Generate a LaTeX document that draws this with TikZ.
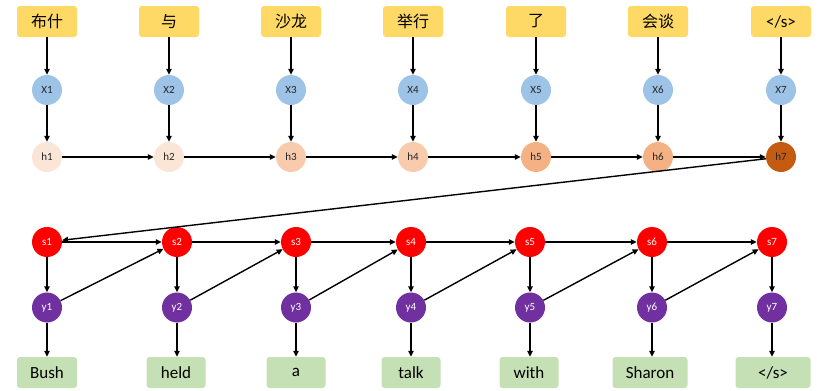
\documentclass[tikz,border=0pt]{standalone}
\usepackage{fontspec}
\setmainfont{Carlito}
\newfontfamily\cjk{Noto Sans CJK SC}
\usetikzlibrary{arrows.meta}
\definecolor{wordyellow}{HTML}{FFD966}
\definecolor{wordgreen}{HTML}{C5E0B4}
\definecolor{xblue}{HTML}{9DC3E6}
\definecolor{hA}{HTML}{FBE5D6}
\definecolor{hB}{HTML}{F8CBAD}
\definecolor{hC}{HTML}{F4B183}
\definecolor{hD}{HTML}{C55A11}
\definecolor{spurple}{HTML}{7030A0}
\newcommand\eosword{</s>}
\tikzset{
  srcword/.style={fill=wordyellow, rounded corners=3pt, minimum width=60pt, minimum height=31pt, inner sep=0pt, font=\fontsize{16}{16}\selectfont\cjk},
  tgtword/.style={fill=wordgreen, rounded corners=3pt, minimum width=59pt, minimum height=31pt, inner sep=0pt, font=\fontsize{17}{17}\selectfont},
  state/.style={circle, minimum size=30pt, inner sep=0pt, font=\fontsize{11}{11}\selectfont},
  xnode/.style={state, fill=xblue, text=black!85},
  hnode/.style={state, text=black!85},
  snode/.style={state, fill=red, text=white},
  ynode/.style={state, fill=spurple, text=white},
  link/.style={-{Triangle[length=6pt,width=5.5pt]}, line width=1.4pt, black},
}
\begin{document}
\begin{tikzpicture}[x=1pt,y=-1pt]
\useasboundingbox (0,0) rectangle (817,391);

% encoder: source words, embeddings, hidden states
\foreach \i/\x/\w/\c in {1/47/布什/hA, 2/169/与/hA, 3/291/沙龙/hB, 4/413/举行/hB, 5/536/了/hC, 6/658/会谈/hC}{
  \node[srcword] (w\i) at (\x,21.5) {\w};
  \node[xnode] (x\i) at (\x,90) {X\i};
  \node[hnode, fill=\c] (h\i) at (\x,157) {h\i};
}
\node[srcword, font=\fontsize{17}{17}\selectfont] (w7) at (781,21.5) {\eosword};
\node[xnode] (x7) at (781,90) {X7};
\node[hnode, fill=hD] (h7) at (781,157) {h7};

\foreach \i in {1,...,7}{
  \draw[link] (w\i) -- (x\i);
  \draw[link] (x\i) -- (h\i);
}
\foreach \i/\j in {1/2,2/3,3/4,4/5,5/6,6/7}{
  \draw[link] (h\i) -- (h\j);
}

% decoder: states, outputs, target words
\foreach \i/\x/\bx/\t/\bw in {1/47/47/Bush/60, 2/177/176/held/59, 3/296/296/a/59, 4/411/411/talk/59, 5/530/529/with/59, 6/652/650/Sharon/75, 7/772/773/\eosword/75}{
  \node[snode] (s\i) at (\x,242) {s\i};
  \node[ynode] (y\i) at (\x,307.5) {y\i};
  \node[tgtword, minimum width=\bw pt] (t\i) at (\bx,372.5) {\t};
  \draw[link] (s\i) -- (y\i);
  \draw[link] (y\i) -- (y\i |- t\i.north);
}
\foreach \i/\j in {1/2,2/3,3/4,4/5,5/6,6/7}{
  \draw[link] (s\i) -- (s\j);
  \draw[link] (y\i) -- (s\j);
}

% context passed from the last encoder state to the first decoder state
\draw[link] (h7) -- (s1);
\end{tikzpicture}
\end{document}
